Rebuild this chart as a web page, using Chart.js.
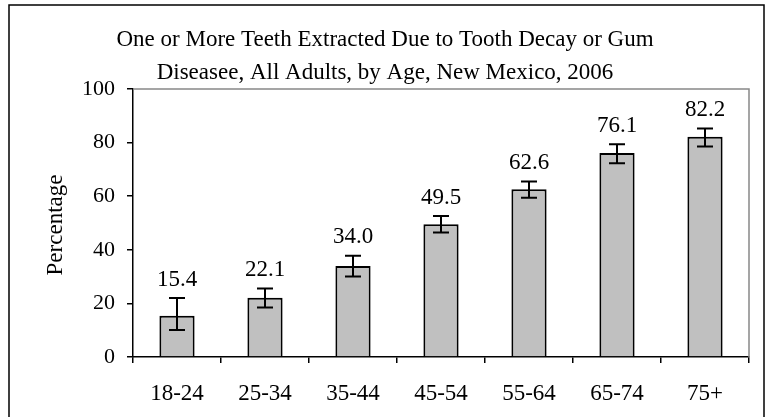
<!DOCTYPE html>
<html>
<head>
<meta charset="utf-8">
<script src="https://cdn.jsdelivr.net/npm/chart.js@4"></script>
<style>
  html, body { margin: 0; padding: 0; background: #fff; }
  #wrap { width: 766px; height: 417px; position: relative; }
</style>
</head>
<body>
<div id="wrap"><canvas id="myChart" width="766" height="417"></canvas></div>
<script>
// data
const ageGroups = ['18-24', '25-34', '35-44', '45-54', '55-64', '65-74', '75+'];
const percentValues = [15.4, 22.1, 34.0, 49.5, 62.6, 76.1, 82.2];
const ciLower = [10.1, 18.5, 30.0, 46.5, 59.4, 72.3, 78.5];
const ciUpper = [22.0, 25.6, 37.8, 52.6, 65.5, 79.4, 85.3];
const yTicks = [0, 20, 40, 60, 80, 100];
const titleLines = ['One or More Teeth Extracted Due to Tooth Decay or Gum',
                    'Diseasee, All Adults, by Age, New Mexico, 2006'];

const serif = '"Liberation Serif", "Times New Roman", serif';

// frame, title, y title, plot border
const decoPlugin = {
    id: 'deco',
    beforeDraw(chart) {
        const ctx = chart.ctx;
        ctx.save();
        ctx.fillStyle = '#fff';
        ctx.fillRect(0, 0, chart.width, chart.height);
        ctx.strokeStyle = '#000';
        ctx.lineWidth = 1.5;
        ctx.strokeRect(9, 5, 755, 430);
        ctx.restore();
    },
    afterDraw(chart) {
        const ctx = chart.ctx;
        const a = chart.chartArea;
        ctx.save();
        ctx.strokeStyle = '#888';
        ctx.lineWidth = 1.5;
        ctx.beginPath();
        ctx.moveTo(a.left, a.top);
        ctx.lineTo(a.right, a.top);
        ctx.lineTo(a.right, a.bottom);
        ctx.stroke();

        ctx.fillStyle = '#000';
        ctx.font = '23px ' + serif;
        ctx.textAlign = 'center';
        ctx.textBaseline = 'middle';
        ctx.fillText(titleLines[0], 385, 40);
        ctx.fillText(titleLines[1], 385, 73);

        ctx.translate(56, 225);
        ctx.rotate(-Math.PI / 2);
        ctx.fillText('Percentage', 0, 0);
        ctx.restore();
    }
};

// error bars + value labels
const errorPlugin = {
    id: 'errbars',
    afterDatasetsDraw(chart) {
        const ctx = chart.ctx;
        const yScale = chart.scales.y;
        const meta = chart.getDatasetMeta(0);
        ctx.save();
        ctx.strokeStyle = '#000';
        ctx.lineWidth = 2;
        ctx.fillStyle = '#000';
        ctx.font = '23px ' + serif;
        ctx.textAlign = 'center';
        ctx.textBaseline = 'bottom';
        meta.data.forEach(function (bar, i) {
            const x = bar.x;
            const yLo = yScale.getPixelForValue(ciLower[i]);
            const yHi = yScale.getPixelForValue(ciUpper[i]);
            ctx.beginPath();
            ctx.moveTo(x, yLo); ctx.lineTo(x, yHi);
            ctx.moveTo(x - 8, yLo); ctx.lineTo(x + 8, yLo);
            ctx.moveTo(x - 8, yHi); ctx.lineTo(x + 8, yHi);
            ctx.stroke();
            ctx.fillText(percentValues[i].toFixed(1), x, yHi - 7);
        });
        ctx.restore();
    }
};

new Chart(document.getElementById('myChart').getContext('2d'), {
    type: 'bar',
    data: {
        labels: ageGroups,
        datasets: [{
            data: percentValues,
            backgroundColor: '#c0c0c0',
            borderColor: '#000',
            borderWidth: 2,
            barPercentage: 0.4,
            categoryPercentage: 1
        }]
    },
    options: {
        responsive: false,
        animation: false,
        devicePixelRatio: 1,
        layout: { padding: { left: 0, right: 17, top: 89, bottom: 0 } },
        plugins: {
            legend: { display: false },
            title: { display: false },
            tooltip: { enabled: false }
        },
        scales: {
            x: {
                afterFit(s) { s.height = 60; },
                border: { color: '#000', width: 1.5 },
                grid: { offset: true, drawOnChartArea: false, tickLength: 6, color: '#000', lineWidth: 1.5 },
                ticks: { color: '#000', padding: 17, font: { family: serif, size: 23 } }
            },
            y: {
                min: 0,
                max: 100,
                afterFit(s) { s.width = 133; },
                afterBuildTicks(s) { s.ticks = yTicks.map(v => ({ value: v })); },
                border: { color: '#000', width: 1.5 },
                grid: { drawOnChartArea: false, tickLength: 6, color: '#000', lineWidth: 1.5 },
                ticks: { color: '#000', padding: 12, font: { family: serif, size: 22 } }
            }
        }
    },
    plugins: [decoPlugin, errorPlugin]
});
</script>
</body>
</html>
